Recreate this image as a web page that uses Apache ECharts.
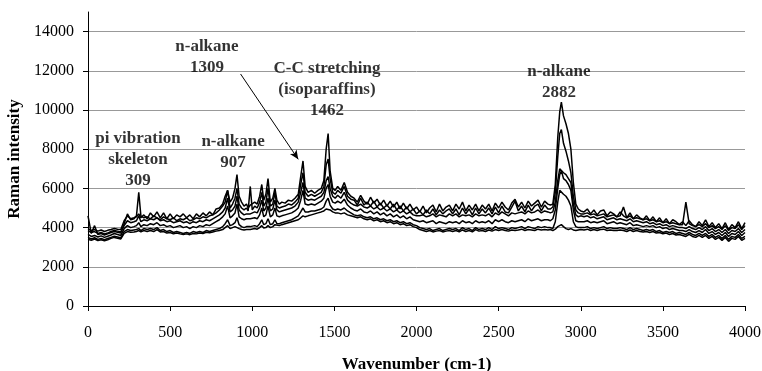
<!DOCTYPE html>
<html>
<head>
<meta charset="utf-8">
<script src="https://cdn.jsdelivr.net/npm/echarts@6/dist/echarts.min.js"></script>
<style>
  html, body { margin: 0; padding: 0; background: #fff; }
  #chart { width: 762px; height: 371px; }
</style>
</head>
<body>
<div id="chart"></div>
<script>
// wavenumbers shared by all spectra (denser around the peaks)
const wavenumbers = [
  0, 20, 40, 60, 80, 100, 120, 140, 160, 180, 200, 220, 240, 260, 280,
  295, 309, 322,
  340, 360, 380, 400, 420, 440, 460, 480, 500, 520, 540, 560, 580, 600, 620, 640, 660, 680, 700, 720, 740, 760, 780, 800, 820,
  835, 850, 865, 880, 895, 907, 920, 935, 950, 965,
  975, 988, 1000, 1015, 1030, 1045, 1058, 1070, 1083, 1096,
  1110, 1125, 1138, 1150, 1165, 1180, 1200, 1220, 1240, 1260,
  1280, 1295, 1309, 1322, 1340, 1360, 1380, 1400, 1420, 1436,
  1450, 1462, 1474, 1490, 1505, 1520, 1540, 1560, 1580, 1600,
  1620, 1640, 1660, 1680, 1700, 1720, 1740, 1760, 1780, 1800,
  1820, 1840, 1860, 1880, 1900, 1920, 1940, 1960, 1980, 2000,
  2020, 2040, 2060, 2080, 2100, 2120, 2140, 2160, 2180, 2200,
  2220, 2240, 2260, 2280, 2300, 2320, 2340, 2360, 2380, 2400,
  2420, 2440, 2460, 2480, 2500, 2520, 2540, 2560, 2580, 2600,
  2620, 2640, 2660, 2680, 2700, 2720, 2740, 2760, 2780, 2800,
  2815, 2830, 2845, 2860, 2872, 2882, 2895, 2910, 2925, 2940, 2955, 2970, 2985, 3000,
  3020, 3040, 3060, 3080, 3100, 3120, 3140, 3160, 3180, 3200,
  3220, 3240, 3260, 3280, 3300, 3320, 3340, 3360, 3380, 3400,
  3420, 3440, 3460, 3480, 3500, 3520, 3540, 3560, 3580, 3600,
  3620, 3640, 3660, 3680, 3700, 3720, 3740, 3760, 3780, 3800,
  3820, 3840, 3860, 3880, 3900, 3920, 3940, 3960, 3980, 4000
];

const spectrum1 = [
  3950, 3850, 3900, 3820, 3880, 3800, 3860, 3900, 3950, 3920, 3900, 4350, 4600, 4450, 4500,
  4550, 4700, 4500,
  4650, 4450, 4750, 4550, 4800, 4500, 4750, 4450, 4700, 4450, 4650, 4550, 4700, 4500, 4650, 4450, 4700, 4550, 4750, 4600, 4800, 4650, 4950, 5000, 5200,
  5600, 5900, 5300, 5500, 6000, 6700, 5600, 5300, 5100, 5200,
  5000, 5150, 5100, 5300, 5200, 5600, 6200, 5400, 5700, 6500,
  5300, 5500, 6000, 5400, 5200, 5300, 5250, 5400, 5350, 5500,
  5700, 6600, 7400, 6100, 5800, 5900, 5750, 5900, 6000, 6400,
  8000, 8800, 6900, 6000, 5900, 6100, 5900, 6300, 5800, 5600,
  5500, 5300, 5650, 5350, 5200, 5550, 5250, 5450, 5150, 5400,
  5100, 5350, 5050, 5300, 4950, 5250, 4950, 5200, 4900, 5050,
  4800, 5100, 4750, 5000, 5150, 4800, 5200, 4850, 5050, 5150,
  4850, 5200, 4950, 5300, 4850, 5150, 4900, 5200, 4850, 5150,
  4950, 5200, 4850, 5250, 5000, 5300, 5050, 4900, 5250, 5450,
  5050, 5300, 5000, 5350, 5100, 5250, 5400, 5050, 5350, 5200,
  5150, 5200, 6200, 8600, 9900, 10400, 9700, 9300, 8800, 8000, 6300, 5200, 4950, 4850,
  4800, 4950, 4700, 4900, 4650, 4850, 4900, 4600, 4800, 4700,
  4550, 4800, 4600, 4500, 4750, 4450, 4650, 4500, 4400, 4600,
  4350, 4550, 4300, 4500, 4250, 4450, 4200, 4400, 4300, 4150,
  4300, 4100, 4350, 4150, 4050, 4300, 4100, 4400, 4050, 4250,
  4000, 4200, 3950, 4250, 3900, 4150, 4000, 4300, 3950, 4250
];

const spectrum2 = [
  4600, 3700, 4100, 3650, 3700, 3620, 3680, 3750, 3800, 3760, 3720, 4200, 4700, 4400, 4450,
  4600, 5800, 4600,
  4500, 4550, 4450, 4600, 4500, 4400, 4550, 4450, 4400, 4500, 4350, 4450, 4400, 4500, 4350, 4400, 4500, 4450, 4550, 4500, 4600, 4650, 4750, 4900, 5100,
  5300, 5900, 5000, 5200, 5500, 6000, 5200, 5000, 4900, 5000,
  4850, 6100, 4900, 5100, 5000, 5300, 5800, 5100, 5300, 6000,
  5100, 5200, 5800, 5100, 5000, 5050, 5100, 5200, 5150, 5300,
  5500, 6200, 6800, 5800, 5600, 5700, 5600, 5700, 5800, 6100,
  7200, 7500, 6500, 5800, 5700, 5900, 5750, 6100, 5600, 5450,
  5400, 5150, 5500, 5150, 5300, 5100, 5350, 5050, 5250, 5000,
  5150, 4950, 5200, 4900, 5100, 4850, 5050, 4800, 4950, 4700,
  4850, 4650, 4900, 4700, 4950, 4650, 4900, 4700, 4850, 4950,
  4700, 4950, 4650, 5000, 4700, 4950, 4650, 5000, 4700, 4950,
  4750, 5000, 4700, 5050, 4750, 5100, 4800, 4750, 5050, 5350,
  4850, 5100, 4800, 5150, 4850, 5100, 5200, 4850, 5150, 4950,
  4950, 5050, 5800, 7600, 8800, 9000, 8300, 7900, 7400, 6800, 5600, 4900, 4750, 4700,
  4700, 4750, 4650, 4700, 4600, 4650, 4700, 4550, 4600, 4650,
  4550, 4600, 5050, 4500, 4600, 4450, 4500, 4450, 4400, 4450,
  4350, 4400, 4300, 4350, 4250, 4300, 4200, 4250, 4200, 4150,
  4150, 5300, 4200, 4100, 4050, 4150, 4050, 4200, 4000, 4100,
  3950, 4050, 3900, 4100, 3850, 4000, 3950, 4150, 3900, 4100
];

const spectrum3 = [
  3850, 3750, 3800, 3700, 3750, 3680, 3720, 3800, 3850, 3820, 3780, 4100, 4350, 4250, 4300,
  4350, 4600, 4300,
  4400, 4350, 4450, 4400, 4500, 4350, 4400, 4300, 4350, 4250, 4300, 4350, 4250, 4300, 4200, 4300, 4250, 4350, 4300, 4400, 4350, 4450, 4550, 4650, 4800,
  5000, 5500, 4800, 4900, 5100, 5600, 4900, 4750, 4650, 4700,
  4600, 4700, 4650, 4800, 4750, 5000, 5400, 4850, 5000, 5500,
  4850, 4950, 5400, 4900, 4800, 4850, 4900, 4950, 5000, 5100,
  5300, 5800, 6300, 5500, 5400, 5450, 5400, 5500, 5600, 5800,
  6400, 6600, 6000, 5600, 5500, 5650, 5500, 5800, 5400, 5250,
  5150, 5100, 5200, 5050, 5000, 5100, 4950, 5050, 4900, 5000,
  4850, 4950, 4800, 4900, 4750, 4850, 4700, 4800, 4650, 4600,
  4600, 4650, 4550, 4600, 4700, 4550, 4650, 4600, 4550, 4700,
  4600, 4700, 4550, 4650, 4600, 4650, 4550, 4700, 4600, 4650,
  4600, 4700, 4550, 4750, 4650, 4800, 4700, 4600, 4750, 4700,
  4750, 4800, 4700, 4850, 4750, 4800, 4900, 4750, 4850, 4800,
  4750, 4800, 5300, 6400, 7000, 7100, 6800, 6700, 6500, 6300, 5200, 4650, 4550, 4600,
  4550, 4600, 4500, 4550, 4450, 4500, 4550, 4400, 4450, 4500,
  4400, 4450, 4400, 4350, 4450, 4300, 4350, 4300, 4250, 4300,
  4200, 4250, 4150, 4200, 4100, 4150, 4050, 4100, 4050, 4000,
  4000, 3950, 4050, 3950, 3900, 4000, 3900, 4050, 3850, 3950,
  3800, 3900, 3750, 3900, 3700, 3850, 3800, 3950, 3750, 3900
];

const spectrum4 = [
  3650, 3550, 3600, 3520, 3580, 3500, 3560, 3620, 3700, 3650, 3600, 3950, 4100, 4000, 4050,
  4100, 4250, 4050,
  4150, 4100, 4200, 4150, 4250, 4100, 4150, 4050, 4100, 4000, 4050, 4100, 4000, 4050, 3950, 4050, 4000, 4100, 4050, 4150, 4100, 4200, 4300, 4400, 4550,
  4700, 5100, 4500, 4600, 4750, 5200, 4550, 4450, 4400, 4450,
  4350, 4450, 4400, 4500, 4450, 4650, 5000, 4550, 4650, 5100,
  4550, 4650, 5000, 4600, 4550, 4600, 4650, 4700, 4750, 4850,
  5000, 5400, 5900, 5200, 5150, 5200, 5150, 5250, 5350, 5500,
  6000, 6200, 5600, 5300, 5250, 5350, 5250, 5450, 5150, 5000,
  4900, 4850, 4950, 4800, 4750, 4850, 4700, 4800, 4650, 4750,
  4600, 4700, 4550, 4650, 4500, 4600, 4450, 4550, 4400, 4350,
  4300, 4350, 4250, 4300, 4350, 4200, 4300, 4250, 4200, 4300,
  4250, 4300, 4200, 4350, 4250, 4300, 4200, 4350, 4250, 4300,
  4250, 4350, 4200, 4400, 4300, 4400, 4300, 4250, 4350, 4300,
  4350, 4400, 4300, 4450, 4350, 4400, 4450, 4350, 4400, 4400,
  4350, 4450, 4900, 6000, 6700, 6900, 6500, 6400, 6200, 5900, 4900, 4350, 4300, 4300,
  4300, 4350, 4250, 4300, 4250, 4300, 4350, 4200, 4250, 4300,
  4200, 4250, 4200, 4150, 4250, 4100, 4150, 4100, 4050, 4100,
  4050, 4100, 4000, 4050, 3950, 4000, 3900, 3950, 3900, 3850,
  3850, 3800, 3900, 3800, 3750, 3850, 3750, 3900, 3700, 3800,
  3650, 3750, 3600, 3750, 3550, 3700, 3650, 3800, 3600, 3750
];

const spectrum5 = [
  3500, 3420, 3480, 3400, 3450, 3380, 3440, 3500, 3560, 3520, 3480, 3800, 3900, 3850, 3880,
  3900, 3950, 3850,
  3950, 3900, 3950, 3900, 4000, 3850, 3900, 3800, 3850, 3750, 3800, 3750, 3700, 3750, 3700, 3800, 3750, 3800, 3750, 3850, 3800, 3850, 3900, 3950, 4050,
  4200, 4400, 4100, 4150, 4250, 4500, 4150, 4050, 4000, 4050,
  3950, 4050, 4000, 4100, 4050, 4200, 4400, 4150, 4200, 4450,
  4150, 4200, 4400, 4200, 4200, 4250, 4300, 4350, 4400, 4500,
  4600, 4800, 5000, 4800, 4800, 4850, 4850, 4900, 4950, 5050,
  5350, 5500, 5150, 4950, 4900, 4950, 4900, 5000, 4850, 4750,
  4650, 4600, 4650, 4550, 4500, 4550, 4450, 4500, 4400, 4450,
  4350, 4400, 4300, 4350, 4250, 4300, 4200, 4250, 4150, 4100,
  4000, 3950, 3900, 3950, 3850, 3900, 3950, 3850, 3900, 3950,
  3900, 3950, 3850, 4000, 3900, 3950, 3850, 4000, 3900, 3950,
  3900, 4000, 3900, 4050, 3950, 4000, 3950, 3900, 4000, 3950,
  4000, 4050, 3950, 4050, 4000, 3950, 4050, 4000, 4050, 4000,
  4000, 3950, 4300, 5300, 5900, 6000, 5700, 5600, 5400, 5100, 4300, 4050, 4000, 4000,
  4000, 4050, 3950, 4000, 3950, 4000, 4050, 3950, 4000, 3950,
  3950, 4000, 3950, 3900, 4000, 3900, 3950, 3900, 3850, 3900,
  3850, 3900, 3800, 3850, 3750, 3800, 3750, 3800, 3700, 3750,
  3700, 3650, 3750, 3650, 3600, 3700, 3600, 3700, 3550, 3650,
  3500, 3600, 3450, 3600, 3400, 3550, 3500, 3650, 3450, 3550
];

const spectrum6 = [
  3400, 3350, 3420, 3340, 3380, 3330, 3380, 3450, 3500, 3460, 3420, 3700, 3800, 3760, 3780,
  3800, 3850, 3780,
  3850, 3800, 3850, 3800, 3900, 3780, 3800, 3720, 3750, 3680, 3720, 3680, 3650, 3680, 3640, 3700, 3680, 3720, 3700, 3760, 3740, 3780, 3820, 3850, 3900,
  4000, 4100, 3950, 4000, 4050, 4150, 3950, 3900, 3880, 3900,
  3850, 3900, 3880, 3950, 3920, 4000, 4100, 3980, 4000, 4100,
  4000, 4050, 4150, 4100, 4100, 4150, 4200, 4250, 4300, 4350,
  4400, 4500, 4600, 4550, 4600, 4650, 4700, 4750, 4800, 4850,
  4950, 5000, 4900, 4800, 4750, 4750, 4700, 4750, 4650, 4600,
  4550, 4500, 4550, 4450, 4400, 4450, 4350, 4400, 4300, 4350,
  4250, 4300, 4200, 4250, 4150, 4200, 4100, 4150, 4050, 4000,
  3900, 3850, 3800, 3850, 3780, 3820, 3850, 3780, 3820, 3850,
  3800, 3850, 3780, 3880, 3800, 3850, 3780, 3900, 3820, 3850,
  3800, 3880, 3820, 3900, 3850, 3900, 3850, 3820, 3880, 3850,
  3880, 3920, 3850, 3900, 3880, 3850, 3920, 3880, 3900, 3880,
  3900, 3850, 3920, 4050, 4100, 4150, 4050, 3950, 3900, 3950, 3880, 3850, 3880, 3900,
  3880, 3920, 3850, 3900, 3850, 3900, 3920, 3850, 3880, 3850,
  3850, 3880, 3850, 3800, 3880, 3800, 3850, 3800, 3780, 3800,
  3750, 3800, 3720, 3750, 3680, 3720, 3650, 3700, 3620, 3650,
  3600, 3550, 3650, 3550, 3500, 3600, 3500, 3600, 3450, 3550,
  3400, 3500, 3350, 3500, 3300, 3450, 3400, 3550, 3350, 3450
];

const spectra = [spectrum1, spectrum2, spectrum3, spectrum4, spectrum5, spectrum6];

const xTicks = [0, 500, 1000, 1500, 2000, 2500, 3000, 3500, 4000];
const yTicks = [0, 2000, 4000, 6000, 8000, 10000, 12000, 14000];

// peak annotations, positioned in data coordinates
const annoX = [304, 883, 724, 1455, 2867];
const annoY = [7474, 7857, 12679, 11046, 11403];
const annoText = [
  'pi vibration\nskeleton\n309',
  'n-alkane\n907',
  'n-alkane\n1309',
  'C-C stretching\n(isoparaffins)\n1462',
  'n-alkane\n2882'
];
const arrowFrom = [929, 11837];
const arrowTo = [1280, 7484];

const FONT = 'Liberation Serif';

const chart = echarts.init(document.getElementById('chart'), null, { renderer: 'canvas' });

const lineSeries = spectra.map((s, k) => ({
  name: 'spectrum' + (k + 1),
  type: 'line',
  data: wavenumbers.map((x, i) => [x, s[i]]),
  symbol: 'none',
  lineStyle: { width: 1.5, color: '#000' },
  silent: true,
  z: 2
}));

const annoSeries = {
  type: 'scatter',
  data: annoX.map((x, i) => [x, annoY[i], annoText[i]]),
  symbolSize: 0,
  silent: true,
  z: 5,
  label: {
    show: true,
    position: 'inside',
    formatter: p => p.data[2],
    color: '#000',
    fontFamily: FONT,
    fontWeight: 'bold',
    fontSize: 17,
    lineHeight: 21,
    align: 'center'
  },
  markLine: {
    silent: true,
    animation: false,
    symbol: ['none', 'arrow'],
    symbolSize: [6, 9],
    label: { show: false },
    lineStyle: { color: '#000', width: 1, type: 'solid' },
    data: [[{ coord: arrowFrom }, { coord: arrowTo }]]
  }
};

chart.setOption({
  backgroundColor: '#fff',
  animation: false,
  grid: { left: 88, right: 17, top: 12, bottom: 65, outerBoundsMode: 'none', containLabel: false },
  xAxis: {
    type: 'value',
    min: 0,
    max: 4000,
    interval: 500,
    name: 'Wavenumber (cm-1)',
    nameLocation: 'middle',
    nameGap: 50,
    nameTextStyle: { fontFamily: FONT, fontWeight: 'bold', fontSize: 17, color: '#000' },
    axisLine: { lineStyle: { color: '#000', width: 1 } },
    axisTick: { show: true, length: 5, lineStyle: { color: '#000' }, customValues: xTicks },
    axisLabel: {
      fontFamily: FONT, fontSize: 16, color: '#000', margin: 19,
      customValues: xTicks, formatter: v => String(v)
    },
    splitLine: { show: false }
  },
  yAxis: {
    type: 'value',
    min: 0,
    max: 15000,
    interval: 2000,
    name: 'Raman intensity',
    nameLocation: 'middle',
    nameGap: 64,
    nameTextStyle: { fontFamily: FONT, fontWeight: 'bold', fontSize: 17, color: '#000' },
    axisLine: { show: true, lineStyle: { color: '#000', width: 1 } },
    axisTick: { show: true, length: 5, lineStyle: { color: '#000' }, customValues: yTicks },
    axisLabel: {
      fontFamily: FONT, fontSize: 16, color: '#000', margin: 14,
      customValues: yTicks, formatter: v => String(v)
    },
    splitLine: {
      show: true,
      lineStyle: {
        color: ['#999', '#999', '#999', '#999', '#999', '#999', '#999', '#999', 'rgba(0,0,0,0)'],
        width: 1
      }
    }
  },
  series: [...lineSeries, annoSeries]
});
</script>
</body>
</html>
